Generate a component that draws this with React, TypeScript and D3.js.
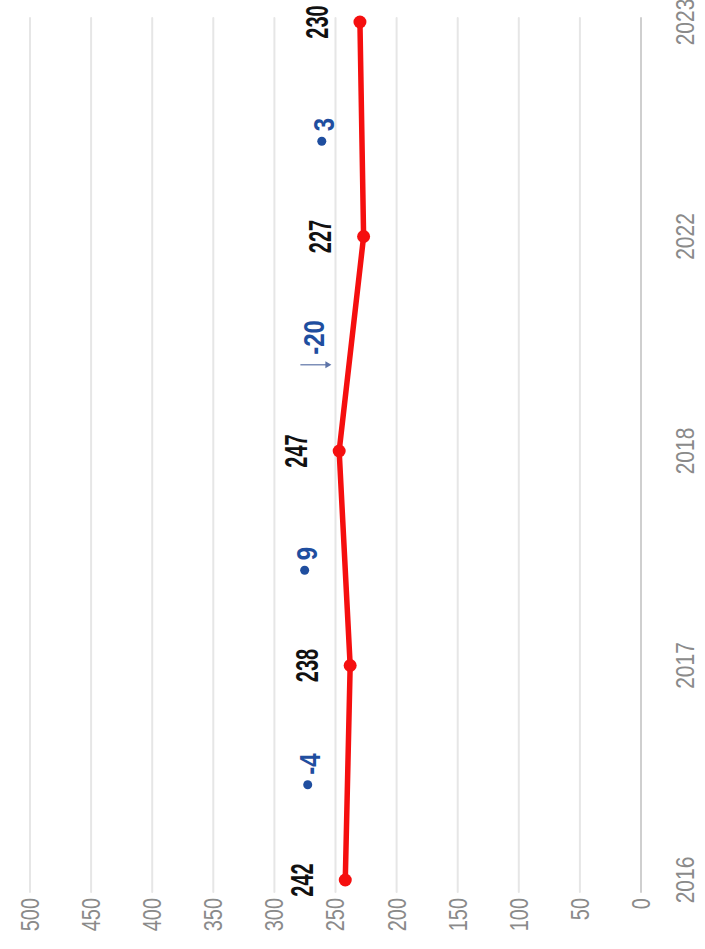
import React from "react";
import * as d3 from "d3";

const years = ["2016", "2017", "2018", "2022", "2023"];
const values = [242, 238, 247, 227, 230];
const changes = [-4, 9, -20, 3];
const changeMarks = ["dot", "dot", "arrow", "dot"];
const valueTicks = [0, 50, 100, 150, 200, 250, 300, 350, 400, 450, 500];

const W = 705;
const H = 949;
const FONT = "'Liberation Sans', Arial, sans-serif";

const rot = (x: number, y: number, k: number) =>
  `translate(${x},${y}) rotate(-90) scale(1,${k})`;

export default function App() {
  const x = d3.scaleLinear().domain([0, 500]).range([641, 30]);
  const y = d3.scalePoint<string>().domain(years).range([880, 22]);

  const line = d3
    .line<number>()
    .x((d) => x(d))
    .y((_, i) => y(years[i]) as number);

  const blue = "#1f4e9f";

  return (
    <svg
      width={W}
      height={H}
      style={{ position: "absolute", left: 0, top: 0, background: "#fff" }}
      fontFamily={FONT}
    >
      <rect x={0} y={0} width={W} height={H} fill="#fff" />
      {valueTicks.map((t) => (
        <line
          key={"g" + t}
          x1={x(t)}
          x2={x(t)}
          y1={18}
          y2={892}
          stroke={t === 0 ? "#cfcfcf" : "#e6e6e6"}
          strokeWidth={2}
          strokeLinecap="round"
        />
      ))}
      {valueTicks.map((t) => (
        <text
          key={"t" + t}
          transform={rot(x(t), 898, 1.3)}
          textAnchor="end"
          dominantBaseline="central"
          fontSize={20}
          fill="#8a8a8a"
        >
          {t}
        </text>
      ))}
      {years.map((yr) => (
        <text
          key={"y" + yr}
          transform={rot(685, y(yr) as number, 1.2)}
          textAnchor="middle"
          dominantBaseline="central"
          fontSize={21}
          fill="#8a8a8a"
        >
          {yr}
        </text>
      ))}
      <path
        d={line(values) || ""}
        fill="none"
        stroke="#f50f0f"
        strokeWidth={5.5}
        strokeLinejoin="round"
      />
      {values.map((v, i) => (
        <circle
          key={"p" + i}
          cx={x(v)}
          cy={y(years[i]) as number}
          r={6.5}
          fill="#f50f0f"
        />
      ))}
      {values.map((v, i) => (
        <text
          key={"v" + i}
          transform={rot(x(v) - 43, y(years[i]) as number, 1.6)}
          textAnchor="middle"
          dominantBaseline="central"
          fontSize={20}
          fontWeight="bold"
          fill="#111"
        >
          {v}
        </text>
      ))}
      {changes.map((c, i) => {
        const y0 = y(years[i]) as number;
        const y1 = y(years[i + 1]) as number;
        const cy = (y0 + y1) / 2;
        const xm = (x(values[i]) + x(values[i + 1])) / 2 - 38;
        if (changeMarks[i] === "arrow") {
          const ay = cy + 21;
          return (
            <g key={"c" + i}>
              <line
                x1={xm - 13}
                x2={xm + 14}
                y1={ay}
                y2={ay}
                stroke="#7d8fb8"
                strokeWidth={1.5}
              />
              <path
                d={`M${xm + 18},${ay} L${xm + 12},${ay - 3.5} L${xm + 12},${ay + 3.5} Z`}
                fill="#5d74a8"
              />
              <text
                transform={rot(xm, cy + 11, 1.25)}
                textAnchor="start"
                dominantBaseline="central"
                fontSize={24}
                fontWeight="bold"
                fill={blue}
              >
                {c}
              </text>
            </g>
          );
        }
        return (
          <g key={"c" + i}>
            <circle cx={xm - 2} cy={cy + 12} r={4.5} fill={blue} />
            <text
              transform={rot(xm, cy + 2, 1.25)}
              textAnchor="start"
              dominantBaseline="central"
              fontSize={24}
              fontWeight="bold"
              fill={blue}
            >
              {c}
            </text>
          </g>
        );
      })}
    </svg>
  );
}
